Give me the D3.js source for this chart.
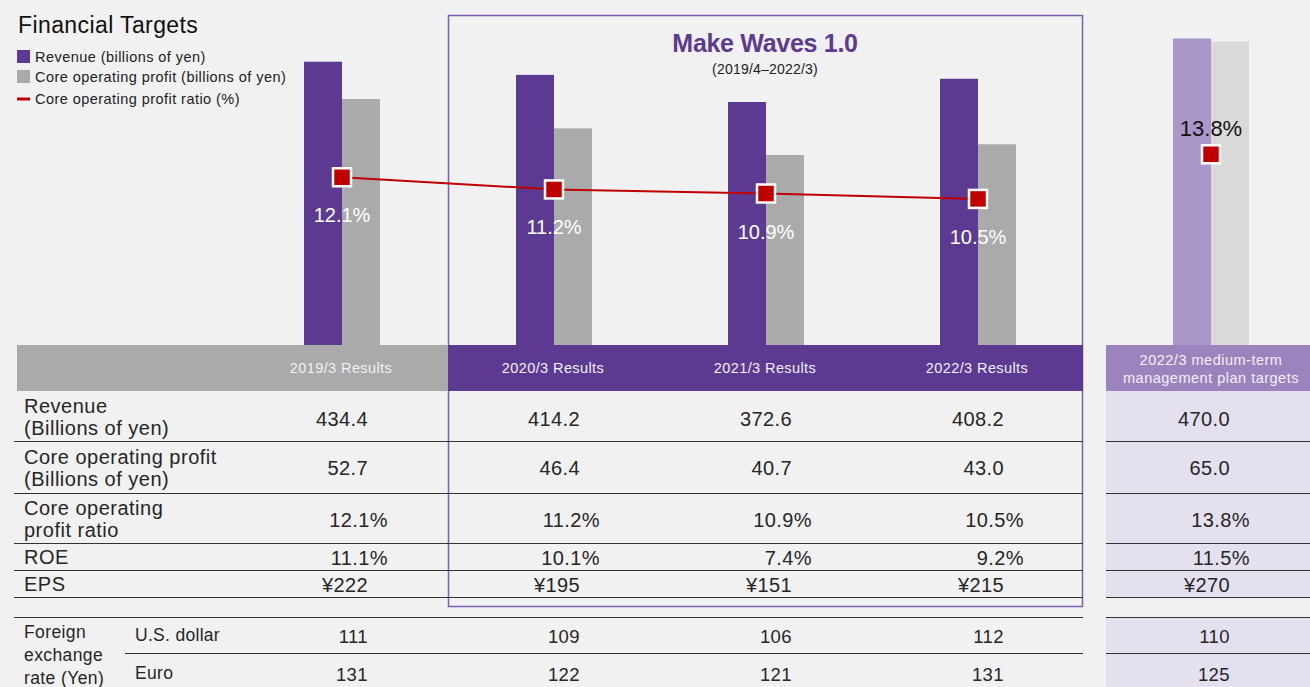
<!DOCTYPE html>
<html>
<head>
<meta charset="utf-8">
<script src="https://cdn.jsdelivr.net/npm/d3@7"></script>
<style>
  html, body { margin: 0; padding: 0; background: #f0f1f0; }
  svg { display: block; }
  text { font-family: "Liberation Sans", Arial, sans-serif; }
</style>
</head>
<body>
<svg id="chart" width="1310" height="687"></svg>
<script>
// ---------------- DATA ----------------
const periods = ["2019/3 Results", "2020/3 Results", "2021/3 Results", "2022/3 Results"];
const targetLabel = ["2022/3 medium-term", "management plan targets"];
const revenue = [434.4, 414.2, 372.6, 408.2];
const revenueTarget = 470.0;
const coreProfit = [52.7, 46.4, 40.7, 43.0];
const coreProfitTarget = 65.0;
const profitRatio = [12.1, 11.2, 10.9, 10.5];
const profitRatioTarget = 13.8;
const roe = [11.1, 10.1, 7.4, 9.2];
const roeTarget = 11.5;
const eps = [222, 195, 151, 215];
const epsTarget = 270;
const usdRate = [111, 109, 106, 112];
const usdTarget = 110;
const euroRate = [131, 122, 121, 131];
const euroTarget = 125;
const legendItems = ["Revenue (billions of yen)", "Core operating profit (billions of yen)", "Core operating profit ratio (%)"];

// ---------------- COLORS ----------------
const C = {
  bg: "#f0f1f0", purple: "#5c3a92", gray: "#a9aaa9", red: "#c00000",
  lpurple: "#aa97c9", lgray: "#d9d9d9", thead: "#9b84bd", tcol: "#e4e0ee",
  box: "#7d5fb4", text: "#262626", line: "#333"
};

const svg = d3.select("#chart");
svg.append("rect").attr("width", 1310).attr("height", 687).attr("fill", C.bg);

// ---------------- SCALES ----------------
const x = d3.scalePoint().domain(periods).range([342, 978]);
const xTarget = 1211;
const barW = 38;
const baseY = 345;
const yRev = d3.scaleLinear().domain([0, 529]).range([baseY, 0]);
const yProfit = d3.scaleLinear().domain([0, 73.9]).range([baseY, 0]);
const yRatio = d3.scaleLinear().domain([0, 25.2]).range([341, 0]);

// ---------------- TITLE & LEGEND ----------------
svg.append("text").attr("x", 18).attr("y", 33).attr("font-size", 23).attr("letter-spacing", 0.4)
  .attr("fill", "#111").text("Financial Targets");
const lg = svg.append("g");
legendItems.forEach((t, i) => {
  const cy = [57, 77, 99][i];
  if (i < 2) {
    lg.append("rect").attr("x", 17).attr("y", cy - 7).attr("width", 13).attr("height", 13)
      .attr("fill", i === 0 ? C.purple : C.gray);
  } else {
    lg.append("rect").attr("x", 17).attr("y", cy - 1.5).attr("width", 13).attr("height", 3).attr("fill", C.red);
  }
  lg.append("text").attr("x", 35).attr("y", cy + 5).attr("font-size", 14.5).attr("letter-spacing", 0.45)
    .attr("fill", "#222").text(t);
});

// ---------------- BARS ----------------
const bars = svg.append("g");
bars.selectAll(".rev").data(periods).join("rect")
  .attr("x", d => x(d) - barW).attr("width", barW)
  .attr("y", (d, i) => yRev(revenue[i])).attr("height", (d, i) => baseY - yRev(revenue[i]))
  .attr("fill", C.purple);
bars.selectAll(".prof").data(periods).join("rect")
  .attr("x", d => x(d)).attr("width", barW)
  .attr("y", (d, i) => yProfit(coreProfit[i])).attr("height", (d, i) => baseY - yProfit(coreProfit[i]))
  .attr("fill", C.gray);
bars.append("rect").attr("x", xTarget - barW).attr("width", barW)
  .attr("y", yRev(revenueTarget)).attr("height", baseY - yRev(revenueTarget)).attr("fill", C.lpurple);
bars.append("rect").attr("x", xTarget).attr("width", barW)
  .attr("y", yProfit(coreProfitTarget)).attr("height", baseY - yProfit(coreProfitTarget)).attr("fill", C.lgray);

// ---------------- MAKE WAVES BOX ----------------
svg.append("rect").attr("x", 448.5).attr("y", 15.5).attr("width", 634).attr("height", 591)
  .attr("fill", "none").attr("stroke", C.box).attr("stroke-width", 1.5);
svg.append("text").attr("x", 765).attr("y", 52).attr("text-anchor", "middle")
  .attr("font-size", 25).attr("font-weight", "bold").attr("fill", C.purple)
  .attr("letter-spacing", -0.3).text("Make Waves 1.0");
svg.append("text").attr("x", 765).attr("y", 74).attr("text-anchor", "middle")
  .attr("font-size", 14).attr("letter-spacing", 0.2).attr("fill", "#222").text("(2019/4\u20132022/3)");

// ---------------- RATIO LINE ----------------
const line = d3.line().x(d => x(d.p)).y(d => yRatio(d.v));
const ratioPts = periods.map((p, i) => ({ p, v: profitRatio[i] }));
svg.append("path").datum(ratioPts).attr("d", line)
  .attr("fill", "none").attr("stroke", C.red).attr("stroke-width", 2);
const mk = 18;
svg.selectAll(".mk").data(ratioPts).join("rect")
  .attr("x", d => x(d.p) - mk / 2).attr("y", d => yRatio(d.v) - mk / 2)
  .attr("width", mk).attr("height", mk).attr("fill", C.red)
  .attr("stroke", "#fff").attr("stroke-width", 2.5);
svg.selectAll(".rl").data(ratioPts).join("text")
  .attr("x", d => x(d.p)).attr("y", d => yRatio(d.v) + 45)
  .attr("text-anchor", "middle").attr("font-size", 20).attr("fill", "#fff")
  .text(d => d.v.toFixed(1) + "%");
svg.append("rect").attr("x", xTarget - mk / 2).attr("y", yRatio(profitRatioTarget) - mk / 2)
  .attr("width", mk).attr("height", mk).attr("fill", C.red).attr("stroke", "#fff").attr("stroke-width", 2.5);
svg.append("text").attr("x", xTarget).attr("y", yRatio(profitRatioTarget) - 18)
  .attr("text-anchor", "middle").attr("font-size", 22).attr("fill", "#111")
  .text(profitRatioTarget.toFixed(1) + "%");

// ---------------- TABLE ----------------
const tY = 345, hH = 46;
svg.append("rect").attr("x", 17).attr("y", tY).attr("width", 431).attr("height", hH).attr("fill", C.gray);
svg.append("rect").attr("x", 448).attr("y", tY).attr("width", 635).attr("height", hH).attr("fill", C.purple);
svg.append("rect").attr("x", 1106).attr("y", tY).attr("width", 204).attr("height", hH).attr("fill", C.thead);
svg.append("rect").attr("x", 1106).attr("y", 391).attr("width", 204).attr("height", 206).attr("fill", C.tcol);
svg.append("rect").attr("x", 1106).attr("y", 617).attr("width", 204).attr("height", 70).attr("fill", C.tcol);

svg.selectAll(".hd").data(periods).join("text")
  .attr("x", d => x(d) - 1).attr("y", 373).attr("text-anchor", "middle")
  .attr("font-size", 14.5).attr("letter-spacing", 0.4).attr("fill", "#f2eff7").text(d => d);
targetLabel.forEach((t, i) => {
  svg.append("text").attr("x", xTarget).attr("y", 365 + i * 18).attr("text-anchor", "middle")
    .attr("font-size", 14.5).attr("letter-spacing", 0.5).attr("fill", "#f2eff7").text(t);
});

// horizontal rules
const rules = [441, 493, 543, 570, 597, 617];
rules.forEach(yy => {
  svg.append("line").attr("x1", 14).attr("x2", 1083).attr("y1", yy + 0.5).attr("y2", yy + 0.5)
    .attr("stroke", C.line).attr("stroke-width", 1);
  svg.append("line").attr("x1", 1106).attr("x2", 1310).attr("y1", yy + 0.5).attr("y2", yy + 0.5)
    .attr("stroke", C.line).attr("stroke-width", 1);
});
svg.append("line").attr("x1", 125).attr("x2", 1083).attr("y1", 653.5).attr("y2", 653.5).attr("stroke", C.line);
svg.append("line").attr("x1", 1106).attr("x2", 1310).attr("y1", 653.5).attr("y2", 653.5).attr("stroke", C.line);

// row labels
const rowLabels = [
  { lines: ["Revenue", "(Billions of yen)"], y: 406 },
  { lines: ["Core operating profit", "(Billions of yen)"], y: 457 },
  { lines: ["Core operating", "profit ratio"], y: 508 },
  { lines: ["ROE"], y: 557 },
  { lines: ["EPS"], y: 584 },
  { lines: ["Foreign", "exchange", "rate (Yen)"], y: 632 }
];
rowLabels.forEach(r => {
  const fx = r.lines.length === 3;
  r.lines.forEach((t, i) => {
    svg.append("text").attr("x", 24).attr("y", r.y + i * (fx ? 23 : 22) + (fx ? 6 : 7))
      .attr("font-size", fx ? 17.5 : 20).attr("letter-spacing", fx ? 0.4 : 0.5)
      .attr("fill", C.text).text(t);
  });
});
svg.append("text").attr("x", 135).attr("y", 641).attr("font-size", 17.5).attr("letter-spacing", 0.3)
  .attr("fill", C.text).text("U.S. dollar");
svg.append("text").attr("x", 135).attr("y", 679).attr("font-size", 17.5).attr("letter-spacing", 0.3)
  .attr("fill", C.text).text("Euro");

// values
const rows = [
  { vals: revenue, tgt: revenueTarget, fmt: v => v.toFixed(1), y: 418, pct: false },
  { vals: coreProfit, tgt: coreProfitTarget, fmt: v => v.toFixed(1), y: 467, pct: false },
  { vals: profitRatio, tgt: profitRatioTarget, fmt: v => v.toFixed(1) + "%", y: 519, pct: true },
  { vals: roe, tgt: roeTarget, fmt: v => v.toFixed(1) + "%", y: 557, pct: true },
  { vals: eps, tgt: epsTarget, fmt: v => "\u00a5" + v, y: 584, pct: false },
  { vals: usdRate, tgt: usdTarget, fmt: v => String(v), y: 635, pct: false, fs: 18.5 },
  { vals: euroRate, tgt: euroTarget, fmt: v => String(v), y: 673, pct: false, fs: 18.5 }
];
rows.forEach(r => {
  const off = r.pct ? 46 : 26;
  const fs = r.fs || 20;
  svg.selectAll(null).data(periods).join("text")
    .attr("x", d => x(d) + off).attr("y", r.y + 8).attr("text-anchor", "end")
    .attr("font-size", fs).attr("letter-spacing", 0.4).attr("fill", C.text)
    .text((d, i) => r.fmt(r.vals[i]));
  svg.append("text").attr("x", xTarget + (r.pct ? 39 : 19)).attr("y", r.y + 8).attr("text-anchor", "end")
    .attr("font-size", fs).attr("letter-spacing", 0.4).attr("fill", C.text).text(r.fmt(r.tgt));
});
</script>
</body>
</html>
